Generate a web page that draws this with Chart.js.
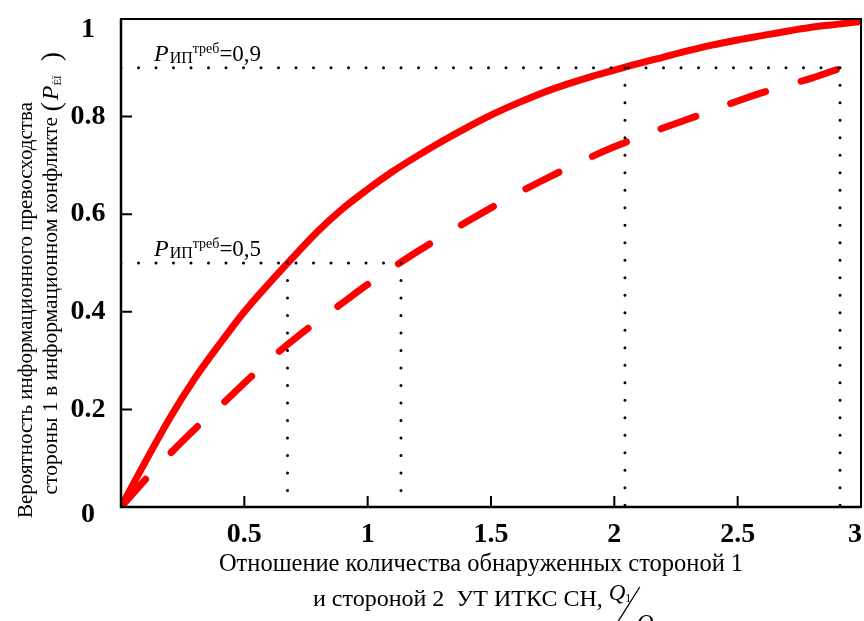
<!DOCTYPE html>
<html>
<head>
<meta charset="utf-8">
<script src="https://cdn.jsdelivr.net/npm/chart.js@4.4.1/dist/chart.umd.min.js"></script>
<style>
  html, body { margin: 0; padding: 0; background: #fff; }
  #wrap { width: 864px; height: 621px; }
</style>
</head>
<body>
<div id="wrap"><canvas id="chart" width="864" height="621"></canvas></div>
<script>
// Q1/Q2 ratio
const ratio = [0, 0.1, 0.2, 0.3, 0.4, 0.5, 0.6, 0.7, 0.8, 0.9, 1.0,
  1.1, 1.2, 1.3, 1.4, 1.5, 1.6, 1.7, 1.8, 1.9, 2.0,
  2.1, 2.2, 2.3, 2.4, 2.5, 2.6, 2.7, 2.8, 2.9, 3.0];
// solid curve
const pSolid = [0, 0.094, 0.184, 0.264, 0.334, 0.400, 0.458, 0.513, 0.566, 0.612, 0.651,
  0.687, 0.719, 0.749, 0.777, 0.803, 0.826, 0.847, 0.865, 0.881, 0.895,
  0.909, 0.922, 0.935, 0.947, 0.957, 0.966, 0.975, 0.983, 0.989, 0.995];
// dashed curve
const pDashed = [0, 0.057, 0.110, 0.160, 0.206, 0.254, 0.301, 0.343, 0.382, 0.419, 0.456,
  0.490, 0.523, 0.554, 0.584, 0.613, 0.641, 0.667, 0.692, 0.716, 0.738,
  0.758, 0.777, 0.795, 0.813, 0.832, 0.849, 0.864, 0.879, 0.896, 0.912];

const xTicks = [0.5, 1, 1.5, 2, 2.5, 3];
const xTickLabels = ["0.5", "1", "1.5", "2", "2.5", "3"];
const yTicks = [0, 0.2, 0.4, 0.6, 0.8, 1];
const yTickLabels = ["0", "0.2", "0.4", "0.6", "0.8", "1"];

// требуемые уровни и точки пересечения
const pRequired = [0.5, 0.9];
const requiredLabels = ["=0,5", "=0,9"];
const crossSolid = [0.675, 2.043];
const crossDashed = [1.135, 2.915];

const SERIF = '"Liberation Serif", "Times New Roman", serif';

const solidData = ratio.map((x, i) => ({ x: x, y: pSolid[i] }));
const dashedData = ratio.map((x, i) => ({ x: x, y: pDashed[i] }));

const dotted = {
  borderColor: "#000",
  borderWidth: 3,
  borderDash: [0, 17.5],
  borderCapStyle: "round",
  pointRadius: 0,
  showLine: true,
  fill: false,
};

const datasets = [];
pRequired.forEach((p, i) => {
  datasets.push(Object.assign({ data: [{ x: 0, y: p }, { x: crossDashed[i], y: p }] }, dotted));
  datasets.push(Object.assign({ data: [{ x: crossSolid[i], y: p }, { x: crossSolid[i], y: 0 }] }, dotted));
  datasets.push(Object.assign({ data: [{ x: crossDashed[i], y: p }, { x: crossDashed[i], y: 0 }] }, dotted));
});
datasets.push({
  data: solidData,
  borderColor: "#ff0000",
  borderWidth: 7,
  borderCapStyle: "round",
  borderJoinStyle: "round",
  pointRadius: 0,
  showLine: true,
  cubicInterpolationMode: "monotone",
});
datasets.push({
  data: dashedData,
  borderColor: "#ff0000",
  borderWidth: 7,
  borderDash: [37, 37],
  borderCapStyle: "round",
  borderJoinStyle: "round",
  pointRadius: 0,
  showLine: true,
  cubicInterpolationMode: "monotone",
});

// рисует строку из кусков разного шрифта
function drawRuns(ctx, x, y, parts, align) {
  let total = 0;
  parts.forEach(p => { ctx.font = p.font; p.w = ctx.measureText(p.text).width + (p.gap || 0); total += p.w; });
  let cx = align === "center" ? x - total / 2 : x;
  parts.forEach(p => {
    ctx.font = p.font;
    ctx.fillText(p.text, cx, y + (p.dy || 0));
    cx += p.w;
  });
  return total;
}

const framePlugin = {
  id: "framePlugin",
  afterDraw: (chart) => {
    const ctx = chart.ctx;
    const a = chart.chartArea;
    const xs = chart.scales.x, ys = chart.scales.y;
    ctx.save();
    ctx.strokeStyle = "#000";
    ctx.fillStyle = "#000";

    // рамка
    ctx.lineWidth = 2;
    ctx.strokeRect(a.left, a.top, a.right - a.left, a.bottom - a.top);
    ctx.lineWidth = 2.5;
    ctx.beginPath();
    ctx.moveTo(a.left, a.top);
    ctx.lineTo(a.left, a.bottom);
    ctx.lineTo(a.right, a.bottom);
    ctx.stroke();

    // засечки внутрь
    ctx.lineWidth = 2;
    ctx.beginPath();
    xTicks.forEach(v => {
      const px = xs.getPixelForValue(v);
      ctx.moveTo(px, a.bottom);
      ctx.lineTo(px, a.bottom - 11);
    });
    yTicks.forEach(v => {
      const py = ys.getPixelForValue(v);
      ctx.moveTo(a.left, py);
      ctx.lineTo(a.left + 11, py);
    });
    ctx.stroke();

    // подписи делений
    ctx.font = "bold 28px " + SERIF;
    ctx.textAlign = "center";
    ctx.textBaseline = "middle";
    xTicks.forEach((v, i) => {
      let px = xs.getPixelForValue(v);
      if (i === xTicks.length - 1) px -= 6;
      ctx.fillText(xTickLabels[i], px, a.bottom + 28);
    });
    yTicks.forEach((v, i) => {
      let py = ys.getPixelForValue(v);
      if (v === 0) py += 8;
      if (v === 1) py += 11;
      ctx.fillText(yTickLabels[i], 88, py);
    });

    // P_ИП^треб
    ctx.textAlign = "left";
    ctx.textBaseline = "alphabetic";
    pRequired.forEach((p, i) => {
      const py = ys.getPixelForValue(p) - 7;
      drawRuns(ctx, a.left + 33, py, [
        { text: "P", font: "italic 24px " + SERIF, gap: 1 },
        { text: "ИП", font: "16px " + SERIF, dy: 2 },
        { text: "треб", font: "14px " + SERIF, dy: -8 },
        { text: requiredLabels[i], font: "23px " + SERIF },
      ]);
    });

    // подпись оси X
    drawRuns(ctx, 481, 571, [
      { text: "Отношение количества обнаруженных стороной 1", font: "24.5px " + SERIF },
    ], "center");
    const w = drawRuns(ctx, 313, 606, [
      { text: "и стороной 2  УТ ИТКС СН,", font: "24px " + SERIF },
    ]);
    const qx = 313 + w + 6;
    drawRuns(ctx, qx, 600, [
      { text: "Q", font: "italic 23px " + SERIF },
      { text: "1", font: "12px " + SERIF, dy: 2 },
    ]);
    drawRuns(ctx, qx + 28, 630, [
      { text: "Q", font: "italic 23px " + SERIF },
      { text: "2", font: "12px " + SERIF, dy: 2 },
    ]);
    ctx.lineWidth = 1.3;
    ctx.beginPath();
    ctx.moveTo(qx + 4, 630);
    ctx.lineTo(qx + 31, 587);
    ctx.stroke();

    // подпись оси Y
    ctx.save();
    ctx.translate(32, 310);
    ctx.rotate(-Math.PI / 2);
    drawRuns(ctx, 0, 0, [
      { text: "Вероятность информационного превосходства", font: "21px " + SERIF },
    ], "center");
    ctx.restore();

    ctx.save();
    ctx.translate(57, 303);
    ctx.rotate(-Math.PI / 2);
    ctx.font = "21.5px " + SERIF;
    const line2 = "стороны 1 в информационном конфликте ";
    const w2 = ctx.measureText(line2).width;
    drawRuns(ctx, -w2 / 2, 0, [
      { text: line2, font: "21.5px " + SERIF },
      { text: "(", font: "28px " + SERIF, dy: 3, gap: 2 },
      { text: "P", font: "italic 24px " + SERIF, dy: 1 },
      { text: "ÈÏ", font: "11px " + SERIF, dy: 4, gap: 14 },
      { text: ")", font: "28px " + SERIF, dy: 3 },
    ]);
    ctx.restore();

    ctx.restore();
  },
};

const ctx = document.getElementById("chart").getContext("2d");
new Chart(ctx, {
  type: "scatter",
  data: { datasets: datasets },
  plugins: [framePlugin],
  options: {
    responsive: false,
    animation: false,
    events: [],
    layout: { padding: { left: 0, right: 3, top: 19, bottom: 0 } },
    plugins: { legend: { display: false }, tooltip: { enabled: false } },
    scales: {
      x: {
        type: "linear",
        min: 0,
        max: 3,
        grid: { display: false },
        border: { display: false },
        ticks: { display: false },
        afterFit: (s) => { s.height = 114; s.paddingLeft = 0; s.paddingRight = 0; },
      },
      y: {
        type: "linear",
        min: 0,
        max: 1,
        grid: { display: false },
        border: { display: false },
        ticks: { display: false },
        afterFit: (s) => { s.width = 121; s.paddingTop = 0; s.paddingBottom = 0; },
      },
    },
  },
});
</script>
</body>
</html>
